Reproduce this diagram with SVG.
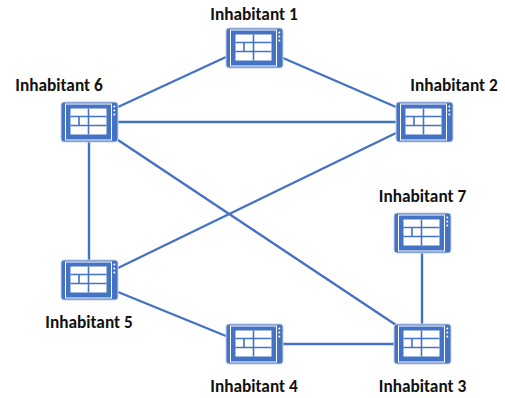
<svg xmlns="http://www.w3.org/2000/svg" width="505" height="398" viewBox="0 0 505 398">
<style>
.lbl{font-family:"Carlito","Liberation Sans",Arial,sans-serif;font-weight:700;font-size:17.3px;fill:#111;text-anchor:middle}
.c{stroke:#4472C4;stroke-width:2.4;fill:none}
</style>
<defs>
<g id="dev">
<rect x="0" y="0" width="57" height="40" rx="3" fill="#4472C4" stroke="#c9d2e2" stroke-width="1"/>
<rect x="4.5" y="2" width="46" height="36" fill="none" stroke="#fff" stroke-width="1"/>
<rect x="9.5" y="6.5" width="36" height="26" fill="#fff"/>
<path d="M27.500 6.500V32.500M9.500 14.500H45.500M9.500 23.500H45.500M18 14.500V23.500" stroke="#4472C4" stroke-width="1.6" fill="none"/>
<circle cx="53.3" cy="4.5" r="1" fill="#fff"/>
<circle cx="53.3" cy="8.5" r="1" fill="#fff"/>
<circle cx="53.3" cy="12.5" r="1" fill="#fff"/>
</g>
</defs>
<rect width="505" height="398" fill="#fff"/>
<g id="connectors">
<line class="c" x1="118" y1="107" x2="226" y2="57"/>
<line class="c" x1="283" y1="58" x2="396" y2="107"/>
<line class="c" x1="118" y1="122" x2="396" y2="122"/>
<line class="c" x1="89" y1="142" x2="89" y2="260"/>
<line class="c" x1="118" y1="140" x2="396" y2="325"/>
<line class="c" x1="396" y1="133" x2="118" y2="268"/>
<line class="c" x1="118" y1="292" x2="226" y2="336"/>
<line class="c" x1="283" y1="344" x2="394" y2="344"/>
<line class="c" x1="422" y1="253" x2="422" y2="324"/>
</g>
<g id="inhabitant-1"><use href="#dev" x="226" y="28"/><text class="lbl" x="254" y="20">Inhabitant 1</text></g>
<g id="inhabitant-2"><use href="#dev" x="396" y="102"/><text class="lbl" x="454" y="91">Inhabitant 2</text></g>
<g id="inhabitant-3"><use href="#dev" x="394" y="324"/><text class="lbl" x="422.500" y="392">Inhabitant 3</text></g>
<g id="inhabitant-4"><use href="#dev" x="226" y="324"/><text class="lbl" x="254" y="392">Inhabitant 4</text></g>
<g id="inhabitant-5"><use href="#dev" x="61" y="260"/><text class="lbl" x="89" y="328">Inhabitant 5</text></g>
<g id="inhabitant-6"><use href="#dev" x="61" y="102"/><text class="lbl" x="59" y="91">Inhabitant 6</text></g>
<g id="inhabitant-7"><use href="#dev" x="394" y="213"/><text class="lbl" x="422.500" y="202">Inhabitant 7</text></g>
</svg>
